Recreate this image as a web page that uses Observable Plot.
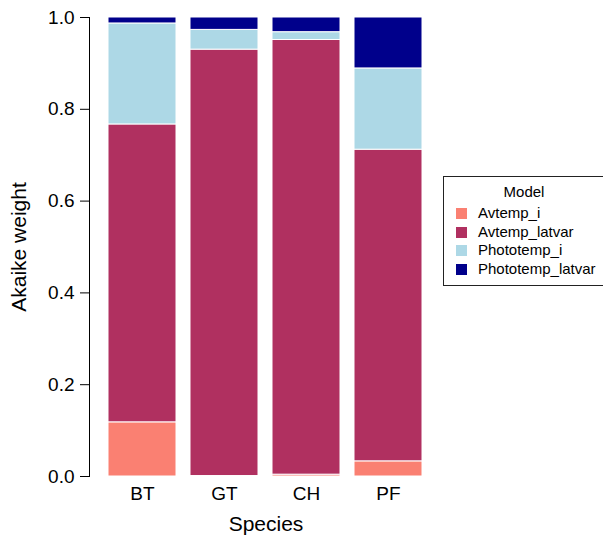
<!DOCTYPE html>
<html><head><meta charset="utf-8">
<script src="https://cdn.jsdelivr.net/npm/d3@7"></script>
<script src="https://cdn.jsdelivr.net/npm/@observablehq/plot@0.6"></script>
<style>
body{margin:0;background:#fff;font-family:"Liberation Sans",Arial,sans-serif;}
#wrap{position:relative;width:603px;height:536px;overflow:hidden;}
#wrap svg{display:block;}
g[aria-label="x-axis label"] text, g[aria-label="y-axis label"] text{font-size:21px;}
#legend{position:absolute;left:443px;top:176px;width:162px;height:110px;box-sizing:border-box;border:1px solid #222;background:#fff;color:#000;}
#legend .title{position:absolute;left:0;right:0;top:6px;text-align:center;font-size:15px;line-height:18px;}
#legend .row{position:absolute;left:12px;height:18px;line-height:18px;font-size:15px;white-space:nowrap;}
#legend .sw{display:inline-block;width:11px;height:11px;margin-right:11px;vertical-align:-1px;}
</style></head><body><div id="wrap"></div>
<script>
const species = ["BT","GT","CH","PF"];
const models = ["Avtemp_i","Avtemp_latvar","Phototemp_i","Phototemp_latvar"];
const avtempI = [0.118, 0.001, 0.004, 0.033];
const avtempLatvar = [0.649, 0.929, 0.947, 0.679];
const phototempI = [0.220, 0.043, 0.017, 0.177];
const phototempLatvar = [0.013, 0.027, 0.032, 0.111];
const colors = ["#FA8072","#B03060","#ADD8E6","#00008B"];
const yTicks = [0, 0.2, 0.4, 0.6, 0.8, 1.0];

const series = [avtempI, avtempLatvar, phototempI, phototempLatvar];
const rows = species.flatMap((s, i) => models.map((m, j) => ({species: s, model: m, w: series[j][i]})));

const chart = Plot.plot({
  width: 603, height: 536,
  marginLeft: 89, marginRight: 161, marginTop: 17, marginBottom: 60,
  style: {fontFamily: '"Liberation Sans", Arial, sans-serif', fontSize: "19px", background: "white", color: "black"},
  x: {domain: species, paddingInner: 0.166, paddingOuter: 0.235, label: null},
  y: {domain: [0, 1], label: null},
  color: {domain: models, range: colors},
  marks: [
    Plot.barY(rows, {x: "species", y: "w", fill: "model", stroke: "white", strokeWidth: 1}),
    Plot.axisY({ticks: yTicks, tickFormat: d3.format(".1f"), tickSize: 9, tickPadding: 6, fontSize: 19, label: "Akaike weight", labelAnchor: "center", labelArrow: "none", labelOffset: 78}),
    Plot.axisX({tickSize: 0, tickPadding: 10, fontSize: 19, label: "Species", labelAnchor: "center", labelArrow: "none", labelOffset: 54}),
    Plot.frame({anchor: "left", stroke: "black"})
  ]
});
const wrap = document.getElementById("wrap");
wrap.appendChild(chart);

const legend = document.createElement("div");
legend.id = "legend";
const title = document.createElement("div");
title.className = "title";
title.textContent = "Model";
legend.appendChild(title);
models.forEach((m, i) => {
  const r = document.createElement("div");
  r.className = "row";
  r.style.top = (27 + i * 18.5) + "px";
  const sw = document.createElement("span");
  sw.className = "sw";
  sw.style.background = colors[i];
  r.appendChild(sw);
  r.appendChild(document.createTextNode(m));
  legend.appendChild(r);
});
wrap.appendChild(legend);
</script>
</body></html>
